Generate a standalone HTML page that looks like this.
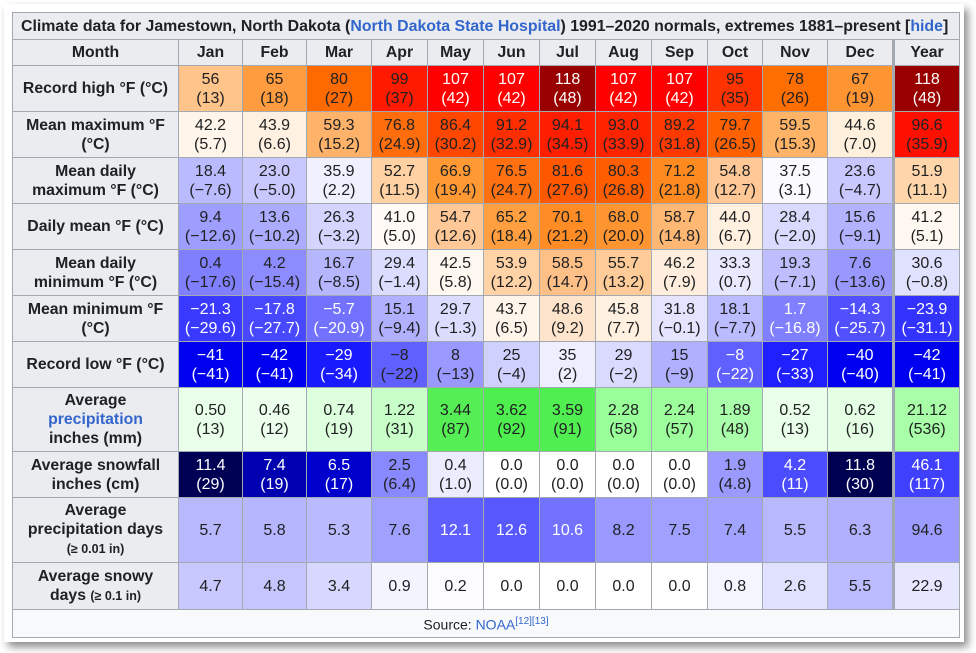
<!DOCTYPE html>
<html><head><meta charset="utf-8"><style>
body{margin:0;width:976px;height:653px;background:#fff;position:relative;overflow:hidden;font-family:"Liberation Sans",Arial,sans-serif;}
.frame{position:absolute;left:4px;top:4px;width:960px;height:638px;background:#fff;box-shadow:4px 5px 8px rgba(0,0,0,0.45);}
table{position:absolute;left:12px;top:12px;width:947px;border-collapse:collapse;table-layout:fixed;font-size:16px;color:#202122;background:#f8f9fa;}
td,th{border:1px solid #a2a9b1;text-align:center;padding:0;line-height:19px;overflow:hidden;white-space:nowrap;}
th{background:#eaecf0;font-weight:bold;font-size:15.8px;}
.cap{text-align:left;padding-left:8px;font-weight:bold;background:#eaecf0;font-size:15.9px}
a{color:#3366cc;text-decoration:none}
.y{border-left:3px solid #a2a9b1}
.w{color:#fff}
small{font-size:12.5px}
</style></head><body>
<div class="frame"></div>
<table>
<colgroup><col style="width:166px"><col style="width:64px"><col style="width:64px"><col style="width:65px"><col style="width:56px"><col style="width:56px"><col style="width:56px"><col style="width:56px"><col style="width:56px"><col style="width:56px"><col style="width:55px"><col style="width:65px"><col style="width:66px"><col style="width:66px"></colgroup>
<tr style="height:27px"><th colspan="14" class="cap">Climate data for Jamestown, North Dakota (<a>North Dakota State Hospital</a>) 1991–2020 normals, extremes 1881–present [<a>hide</a>]</th></tr>
<tr style="height:26px"><th>Month</th><th>Jan</th><th>Feb</th><th>Mar</th><th>Apr</th><th>May</th><th>Jun</th><th>Jul</th><th>Aug</th><th>Sep</th><th>Oct</th><th>Nov</th><th>Dec</th><th class="y">Year</th></tr>
<tr style="height:46px"><th>Record high °F (°C)</th><td style="background:#ffc48a">56<br>(13)</td><td style="background:#ff9c3f">65<br>(18)</td><td style="background:#ff6a00">80<br>(27)</td><td style="background:#ff1a00">99<br>(37)</td><td class="w" style="background:#ff0000">107<br>(42)</td><td class="w" style="background:#ff0000">107<br>(42)</td><td class="w" style="background:#990000">118<br>(48)</td><td class="w" style="background:#ff0000">107<br>(42)</td><td class="w" style="background:#ff0000">107<br>(42)</td><td style="background:#ff3300">95<br>(35)</td><td style="background:#ff6e00">78<br>(26)</td><td style="background:#ff9433">67<br>(19)</td><td class="y w" style="background:#990000">118<br>(48)</td></tr>
<tr style="height:46px"><th>Mean maximum °F<br>(°C)</th><td style="background:#fff5ea">42.2<br>(5.7)</td><td style="background:#fff1e1">43.9<br>(6.6)</td><td style="background:#ffb36a">59.3<br>(15.2)</td><td style="background:#ff6d0d">76.8<br>(24.9)</td><td style="background:#ff4700">86.4<br>(30.2)</td><td style="background:#ff2e00">91.2<br>(32.9)</td><td style="background:#ff1f00">94.1<br>(34.5)</td><td style="background:#ff2400">93.0<br>(33.9)</td><td style="background:#ff3900">89.2<br>(31.8)</td><td style="background:#ff6000">79.7<br>(26.5)</td><td style="background:#ffb366">59.5<br>(15.3)</td><td style="background:#fff0dd">44.6<br>(7.0)</td><td class="y" style="background:#ff1000">96.6<br>(35.9)</td></tr>
<tr style="height:46px"><th>Mean daily<br>maximum °F (°C)</th><td style="background:#babaff">18.4<br>(−7.6)</td><td style="background:#c8c8ff">23.0<br>(−5.0)</td><td style="background:#f0f0ff">35.9<br>(2.2)</td><td style="background:#ffd1a3">52.7<br>(11.5)</td><td style="background:#ff9933">66.9<br>(19.4)</td><td style="background:#ff7010">76.5<br>(24.7)</td><td style="background:#ff5800">81.6<br>(27.6)</td><td style="background:#ff5e00">80.3<br>(26.8)</td><td style="background:#ff8a20">71.2<br>(21.8)</td><td style="background:#ffc896">54.8<br>(12.7)</td><td style="background:#fafaff">37.5<br>(3.1)</td><td style="background:#c8c8ff">23.6<br>(−4.7)</td><td class="y" style="background:#ffd5aa">51.9<br>(11.1)</td></tr>
<tr style="height:46px"><th>Daily mean °F (°C)</th><td style="background:#9e9eff">9.4<br>(−12.6)</td><td style="background:#acacff">13.6<br>(−10.2)</td><td style="background:#d4d4ff">26.3<br>(−3.2)</td><td style="background:#fffaf5">41.0<br>(5.0)</td><td style="background:#ffc896">54.7<br>(12.6)</td><td style="background:#ff9f40">65.2<br>(18.4)</td><td style="background:#ff8c25">70.1<br>(21.2)</td><td style="background:#ff9530">68.0<br>(20.0)</td><td style="background:#ffb874">58.7<br>(14.8)</td><td style="background:#fff0e0">44.0<br>(6.7)</td><td style="background:#dadaff">28.4<br>(−2.0)</td><td style="background:#b2b2ff">15.6<br>(−9.1)</td><td class="y" style="background:#fff8f0">41.2<br>(5.1)</td></tr>
<tr style="height:46px"><th>Mean daily<br>minimum °F (°C)</th><td style="background:#8080ff">0.4<br>(−17.6)</td><td style="background:#8c8cff">4.2<br>(−15.4)</td><td style="background:#b6b6ff">16.7<br>(−8.5)</td><td style="background:#dcdcff">29.4<br>(−1.4)</td><td style="background:#fff8f0">42.5<br>(5.8)</td><td style="background:#ffd3a6">53.9<br>(12.2)</td><td style="background:#ffc088">58.5<br>(14.7)</td><td style="background:#ffcb98">55.7<br>(13.2)</td><td style="background:#ffeedd">46.2<br>(7.9)</td><td style="background:#e8e8ff">33.3<br>(0.7)</td><td style="background:#bebeff">19.3<br>(−7.1)</td><td style="background:#9898ff">7.6<br>(−13.6)</td><td class="y" style="background:#e0e0ff">30.6<br>(−0.8)</td></tr>
<tr style="height:46px"><th>Mean minimum °F<br>(°C)</th><td class="w" style="background:#3a3aff">−21.3<br>(−29.6)</td><td class="w" style="background:#4848ff">−17.8<br>(−27.7)</td><td class="w" style="background:#7272ff">−5.7<br>(−20.9)</td><td style="background:#b0b0ff">15.1<br>(−9.4)</td><td style="background:#dcdcff">29.7<br>(−1.3)</td><td style="background:#fff5ea">43.7<br>(6.5)</td><td style="background:#ffe4cc">48.6<br>(9.2)</td><td style="background:#fff0e0">45.8<br>(7.7)</td><td style="background:#e4e4ff">31.8<br>(−0.1)</td><td style="background:#bbbbff">18.1<br>(−7.7)</td><td class="w" style="background:#8080ff">1.7<br>(−16.8)</td><td class="w" style="background:#5050ff">−14.3<br>(−25.7)</td><td class="y w" style="background:#3333ff">−23.9<br>(−31.1)</td></tr>
<tr style="height:46px"><th>Record low °F (°C)</th><td class="w" style="background:#0000f0">−41<br>(−41)</td><td class="w" style="background:#0000f0">−42<br>(−41)</td><td class="w" style="background:#1a1aff">−29<br>(−34)</td><td style="background:#6060ff">−8<br>(−22)</td><td style="background:#9999ff">8<br>(−13)</td><td style="background:#d0d0ff">25<br>(−4)</td><td style="background:#eeeeff">35<br>(2)</td><td style="background:#dadaff">29<br>(−2)</td><td style="background:#b0b0ff">15<br>(−9)</td><td class="w" style="background:#6060ff">−8<br>(−22)</td><td class="w" style="background:#2020ff">−27<br>(−33)</td><td class="w" style="background:#0000f0">−40<br>(−40)</td><td class="y w" style="background:#0000f0">−42<br>(−41)</td></tr>
<tr style="height:64px"><th>Average<br><a>precipitation</a><br>inches (mm)</th><td style="background:#eaffea">0.50<br>(13)</td><td style="background:#ecffec">0.46<br>(12)</td><td style="background:#ddffdd">0.74<br>(19)</td><td style="background:#c8ffc8">1.22<br>(31)</td><td style="background:#55ee55">3.44<br>(87)</td><td style="background:#4eee4e">3.62<br>(92)</td><td style="background:#50ee50">3.59<br>(91)</td><td style="background:#99ff99">2.28<br>(58)</td><td style="background:#9cff9c">2.24<br>(57)</td><td style="background:#aaffaa">1.89<br>(48)</td><td style="background:#eaffea">0.52<br>(13)</td><td style="background:#e5ffe5">0.62<br>(16)</td><td class="y" style="background:#a8ffa8">21.12<br>(536)</td></tr>
<tr style="height:46px"><th>Average snowfall<br>inches (cm)</th><td class="w" style="background:#000055">11.4<br>(29)</td><td class="w" style="background:#0000b0">7.4<br>(19)</td><td class="w" style="background:#0000cc">6.5<br>(17)</td><td style="background:#8888ff">2.5<br>(6.4)</td><td style="background:#ececff">0.4<br>(1.0)</td><td style="background:#ffffff">0.0<br>(0.0)</td><td style="background:#ffffff">0.0<br>(0.0)</td><td style="background:#ffffff">0.0<br>(0.0)</td><td style="background:#ffffff">0.0<br>(0.0)</td><td style="background:#9a9aff">1.9<br>(4.8)</td><td class="w" style="background:#4c4cff">4.2<br>(11)</td><td class="w" style="background:#000050">11.8<br>(30)</td><td class="y w" style="background:#4040ff">46.1<br>(117)</td></tr>
<tr style="height:65px"><th>Average<br>precipitation days<br><small>(≥ 0.01 in)</small></th><td style="background:#b8b8ff">5.7</td><td style="background:#b6b6ff">5.8</td><td style="background:#babaff">5.3</td><td style="background:#a0a0ff">7.6</td><td class="w" style="background:#5f5fff">12.1</td><td class="w" style="background:#5858ff">12.6</td><td class="w" style="background:#7272ff">10.6</td><td style="background:#9999ff">8.2</td><td style="background:#a0a0ff">7.5</td><td style="background:#a2a2ff">7.4</td><td style="background:#b8b8ff">5.5</td><td style="background:#b0b0ff">6.3</td><td class="y" style="background:#9c9cff">94.6</td></tr>
<tr style="height:47px"><th>Average snowy<br>days <small>(≥ 0.1 in)</small></th><td style="background:#c8c8ff">4.7</td><td style="background:#c6c6ff">4.8</td><td style="background:#d8d8ff">3.4</td><td style="background:#f4f4ff">0.9</td><td style="background:#fcfcff">0.2</td><td style="background:#fff">0.0</td><td style="background:#fff">0.0</td><td style="background:#fff">0.0</td><td style="background:#fff">0.0</td><td style="background:#f5f5ff">0.8</td><td style="background:#e0e0ff">2.6</td><td style="background:#bbbbff">5.5</td><td class="y" style="background:#e6e6ff">22.9</td></tr>
<tr style="height:28px"><td colspan="14" style="font-size:14px">Source: <a>NOAA</a><sup style="font-size:10px"><a>[12][13]</a></sup></td></tr>
</table>
</body></html>
